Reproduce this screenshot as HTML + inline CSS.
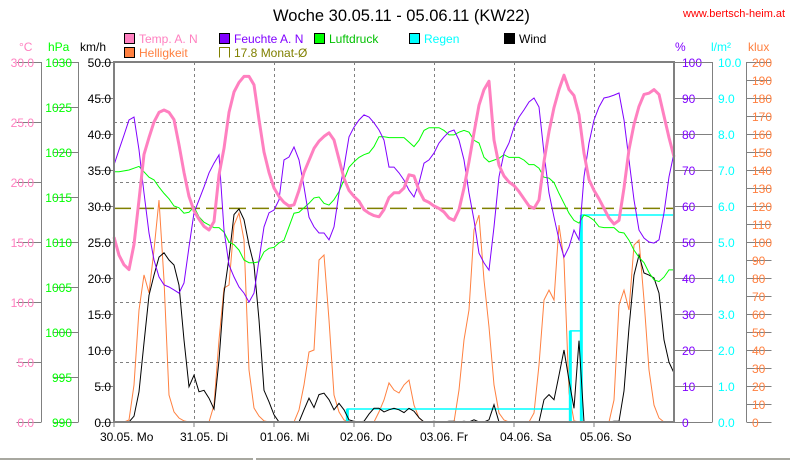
<!DOCTYPE html>
<html><head><meta charset="utf-8">
<style>
html,body{margin:0;padding:0;background:#fff;}
svg{display:block;font-family:"Liberation Sans",sans-serif;}
</style></head>
<body>
<svg id="chart" width="790" height="460" viewBox="0 0 790 460" xmlns="http://www.w3.org/2000/svg">
<text x="273" y="21" font-size="16.5" fill="#000">Woche 30.05.11 - 05.06.11 (KW22)</text>
<text x="683" y="17" font-size="11" fill="#ff0000">www.bertsch-heim.at</text>
<g font-size="12">
<g><rect x="124.5" y="33.5" width="10" height="10" fill="#ff80c0" stroke="#000"/><text x="139" y="43" fill="#ff80c0">Temp. A. N</text></g>
<g><rect x="219.5" y="33.5" width="10" height="10" fill="#8000ff" stroke="#000"/><text x="234" y="43" fill="#8000ff">Feuchte A. N</text></g>
<g><rect x="314.5" y="33.5" width="10" height="10" fill="#00ff00" stroke="#000"/><text x="329" y="43" fill="#00c000">Luftdruck</text></g>
<g><rect x="409.5" y="33.5" width="10" height="10" fill="#00ffff" stroke="#000"/><text x="424" y="43" fill="#00ffff">Regen</text></g>
<g><rect x="504.5" y="33.5" width="10" height="10" fill="#000" stroke="#000"/><text x="519" y="43" fill="#000">Wind</text></g>
<g><rect x="124.5" y="47.5" width="10" height="10" fill="#ff8040" stroke="#000"/><text x="139" y="57" fill="#ff8040">Helligkeit</text></g>
<g><path d="M219.5 57.5 V47.5 H229.5 V57.5" fill="none" stroke="#808000"/><text x="234" y="57" fill="#808000">17.8 Monat-Ø</text></g>
</g>
<g font-size="12">
<text x="19" y="51" fill="#ff80c0">°C</text>
<text x="48" y="51" fill="#00ff00">hPa</text>
<text x="80" y="51" fill="#000">km/h</text>
<text x="675" y="51" fill="#8000ff">%</text>
<text x="711" y="51" fill="#00ffff">l/m²</text>
<text x="748" y="51" fill="#ff8040">klux</text>
</g>
<g id="grid"></g>
<g id="axes"></g>
<g id="series"></g>
<rect x="114" y="62" width="560" height="360" fill="none" stroke="#808080" stroke-width="2"/>
<line x1="0" y1="459" x2="253" y2="459" stroke="#a8a8a0" stroke-width="2"/>
<line x1="256" y1="459" x2="790" y2="459" stroke="#a8a8a0" stroke-width="2"/>
</svg>
<script>
const STEP_H = 1.5;
const dayLabels = ["30.05.  Mo","31.05.  Di","01.06.  Mi","02.06.  Do","03.06.  Fr","04.06.  Sa","05.06.  So"];
const kmhTicks = [0,5,10,15,20,25,30,35,40,45,50];
const celsiusTicks = [0,5,10,15,20,25,30];
const hpaTicks = [990,995,1000,1005,1010,1015,1020,1025,1030];
const pctTicks = [0,10,20,30,40,50,60,70,80,90,100];
const rainTicks = [0,1,2,3,4,5,6,7,8,9,10];
const kluxTicks = [0,10,20,30,40,50,60,70,80,90,100,110,120,130,140,150,160,170,180,190,200];
const monthAvg = 17.8;
const temperature = [15.4,13.9,13.1,12.7,14.8,18.5,22.3,23.7,25.0,25.8,26.0,25.8,25.2,23.1,20.8,18.8,17.6,16.9,16.3,16.0,16.7,20.6,22.8,25.8,27.5,28.3,28.8,28.8,28.1,25.2,22.5,20.8,19.5,18.8,18.3,18.0,18.1,19.3,20.8,21.8,22.8,23.4,23.8,24.1,23.5,21.9,20.3,19.3,18.8,18.4,17.7,17.4,17.2,17.1,17.7,18.7,19.1,19.1,19.5,20.6,20.5,19.3,18.5,18.3,18.0,17.8,17.5,17.0,16.8,17.7,19.5,21.7,24.1,26.4,27.7,28.4,23.5,21.4,20.5,20.0,19.7,19.2,18.6,18.0,17.8,18.5,21.7,24.2,26.2,27.7,28.9,27.7,27.2,25.6,22.4,20.2,19.3,18.6,17.8,17.0,16.5,16.8,19.5,22.7,24.8,26.3,27.3,27.4,27.7,27.3,25.5,23.7,22.1];
const humidity = [71.4,75.6,79.7,83.9,84.7,75.6,63.6,52.5,45,40.3,38.1,37.5,36.7,35.8,38.6,48.6,58.1,61.7,65.3,69.2,71.9,74.2,53.3,43.6,40.3,37.5,35.8,33.3,35.8,45,54.2,58.1,58.9,61.7,72.8,73.6,76.4,72.8,65.3,56.9,54.2,52.5,52.5,50.6,54.2,63.6,70.8,79.2,81.9,83.9,85.3,84.7,83.1,81.1,78.3,70.8,70.8,69.2,67.2,64.4,62.5,66.4,71.9,72.8,74.7,77.5,79.2,80.6,81.1,78.3,72.8,63.6,56.1,46.9,44.2,42.2,54.2,68.1,74.7,77.5,81.9,84.7,86.7,88.9,90,87.5,74.7,63.6,56.9,50.6,45.8,48.6,53.3,50.6,68.1,77.5,83.9,87.5,90,90.3,90.8,91.4,83.9,72.8,61.7,53.3,51.1,50,49.7,50.6,58.1,68.1,74.7];
const pressure = [1017.8,1017.8,1017.9,1018.0,1018.2,1018.4,1017.8,1017.2,1016.9,1016.1,1015.4,1014.8,1014.0,1013.8,1013.2,1013.3,1013.9,1012.8,1012.2,1011.9,1011.6,1011.6,1011.1,1010.0,1009.7,1009.1,1008.0,1007.7,1007.7,1007.8,1008.9,1009.3,1009.4,1009.9,1010.2,1011.7,1013.2,1013.3,1013.8,1014.3,1014.9,1015.0,1014.3,1014.1,1014.7,1015.6,1016.9,1018.3,1018.9,1019.4,1019.7,1019.9,1020.6,1021.7,1021.7,1021.6,1021.6,1021.6,1021.6,1021.1,1020.6,1021.3,1022.4,1022.7,1022.7,1022.7,1022.4,1021.9,1021.9,1022.2,1022.4,1022.2,1021.3,1021.0,1019.4,1018.9,1019.1,1019.3,1019.7,1019.4,1019.4,1019.4,1019.1,1018.6,1018.6,1018.2,1017.2,1017.1,1016.6,1015.4,1014.3,1013.2,1012.4,1012.1,1013.0,1012.8,1012.4,1011.7,1011.6,1011.6,1011.6,1011.1,1011.0,1010.2,1009.1,1008.3,1007.7,1006.6,1005.8,1005.6,1006.1,1006.9,1006.9];
const wind = [0,0,0,0,0.8,4.2,11.0,17.6,20.4,22.9,23.5,22.5,21.8,19.0,11.4,4.9,6.5,4.2,4.4,3.3,1.8,8.6,17.9,22.8,28.8,29.6,28.1,24.6,21.8,14.2,4.4,2.8,1.0,0,0,0,0,0,1.7,3.3,2.0,3.8,4.0,3.1,1.7,2.6,1.7,0.3,0.1,0,0.1,1.1,1.9,1.9,1.4,1.7,1.9,1.7,1.3,1.9,1.5,0.6,0,0,0.1,0,0,0.1,0.1,0,0.1,0,0.3,0,0,0.3,2.4,0,0,0,0,0,0,0,0,0,3.1,3.8,3.1,6.5,10.0,5.8,1.9,11.3,0,0,0,0,0,0,0.1,0.1,4.3,13.1,20.4,23.2,20.7,20.4,20.0,17.9,11.4,8.3,6.8];
const light = [0,0,0,1.1,20.6,62.2,81.7,71.7,95.6,123.3,78.9,15,5.6,2.2,0.6,0,0,0,0,0,9.4,45.6,74.4,76.1,109.4,116.1,101.1,28.9,7.8,3.3,0.6,0,0,0,0,0,0,6.7,20.6,38.9,40,90,92.8,56.7,15,5.6,1.1,0,0,0,0,0,0,5.6,12.2,21.7,17.8,16.1,20.6,23.3,9.4,2.2,0,0,0,0,0,0,0,17.8,45.6,62.2,106.7,115,78.9,52.8,20.6,5,1.1,0,0,0,0,0,5,31.7,67.8,73.3,67.8,109.4,90,16.1,0.6,0,0,0,0,0,0,0,12.2,65,73.3,62.2,98.3,101.1,67.8,28.9,9.4,2.2,0,0,0];
const rainEventHours = [70.0, 136.9, 140.2];
const rainEventAmounts = [0.36, 2.17, 3.22];

const NS = "http://www.w3.org/2000/svg";
const L = 114, R = 674, T = 62, B = 422, HOURS = 168;
function xH(h){ return L + h*(R-L)/HOURS; }
function yKmh(v){ return B - v*(B-T)/50; }
function yC(v){ return B - v*(B-T)/30; }
function yHpa(v){ return B - (v-990)*(B-T)/40; }
function yPct(v){ return B - v*(B-T)/100; }
function yRain(v){ return B - v*(B-T)/10; }
function yKlux(v){ return B - v*(B-T)/200; }
function mk(tag, attrs, parent){
  const e = document.createElementNS(NS, tag);
  for (const k in attrs) e.setAttribute(k, attrs[k]);
  parent.appendChild(e);
  return e;
}
const grid = document.getElementById("grid");
const axes = document.getElementById("axes");
const series = document.getElementById("series");

for (let d = 1; d < dayLabels.length; d++){
  const x = Math.round(xH(d*24))+0.5;
  const ln = mk("line",{x1:x,y1:T,x2:x,y2:B,stroke:"#808080","stroke-dasharray":"3,3"},grid);
  
  
}
for (let i = 1; i < 6; i++){
  const y = Math.round(T + i*(B-T)/6)+0.5;
  const ln = mk("line",{x1:L,y1:y,x2:R,y2:y,stroke:"#808080","stroke-dasharray":"3,3"},grid);
  
  
}
for (let d = 0; d < dayLabels.length; d++){
  const x = xH(d*24);
  const t = mk("text",{x:x-14,y:441,"font-size":12,fill:"#000"},axes);
  t.textContent = dayLabels[d];
  
  
  const tk = mk("line",{x1:x,y1:B,x2:x,y2:B+5,stroke:"#808080"},axes);
  
  
}
function vAxis(lineX, ticks, yf, labelX, anchor, color, fmt, tickDir, name){
  if (lineX !== null){
    const al = mk("line",{x1:lineX,y1:T,x2:lineX,y2:B,stroke:"#808080"},axes);
    
    
  }
  ticks.forEach(v=>{
    const y = Math.round(yf(v))+0.5;
    const x0 = lineX===null ? (tickDir<0 ? L : R) : lineX;
    const tk = mk("line",{x1:x0,y1:y,x2:x0+tickDir*5,y2:y,stroke:"#808080"},axes);
    
    
    const t = mk("text",{x:labelX,y:y+4.5,"font-size":12,fill:color,"text-anchor":anchor},axes);
    t.textContent = fmt(v);
    
    
  });
}
vAxis(41.5, celsiusTicks, yC, 34, "end", "#ff80c0", v=>v.toFixed(1), -5, "celsius");
vAxis(78.5, hpaTicks, yHpa, 72, "end", "#00ff00", v=>String(v), -5, "hpa");
vAxis(null, kmhTicks, yKmh, 111, "end", "#000", v=>v.toFixed(1), -3, "kmh");
vAxis(null, pctTicks, yPct, 682, "start", "#8000ff", v=>String(v), 6, "percent");
vAxis(712.5, rainTicks, yRain, 718, "start", "#00ffff", v=>v.toFixed(1), -4, "rain");
vAxis(746.5, kluxTicks, yKlux, 752, "start", "#ff8040", v=>String(v), 5, "klux");

function pathFrom(arr, yf){
  let d = "";
  arr.forEach((v,i)=>{ d += (i?"L":"M") + xH(i*STEP_H).toFixed(1) + " " + yf(v).toFixed(1); });
  return d;
}
const avgY = yC(monthAvg);
const avg = mk("line",{x1:L,y1:avgY,x2:R,y2:avgY,stroke:"#808000","stroke-width":1.5,"stroke-dasharray":"17,6"},series);



const pL = mk("path",{d:pathFrom(light,yKlux),fill:"none",stroke:"#ff8040","stroke-width":1},series);



let cum = 0, rd = "M"+L+" "+yRain(0);
const cumAt = [];
rainEventHours.forEach((h,i)=>{
  const x = xH(h);
  rd += "L"+x.toFixed(1)+" "+yRain(cum).toFixed(1);
  cum += rainEventAmounts[i];
  cumAt.push(cum);
  rd += "L"+x.toFixed(1)+" "+yRain(cum).toFixed(1);
});
rd += "L"+R+" "+yRain(cum).toFixed(1);
const pR = mk("path",{d:rd,fill:"none",stroke:"#00ffff","stroke-width":1.5},series);


rainEventHours.forEach((h,i)=>{
  const x = xH(h);
  const b = mk("line",{x1:x,y1:B,x2:x,y2:yRain(cumAt[i]),stroke:"#00ffff","stroke-width":3},series);
  
  
});

const pW = mk("path",{d:pathFrom(wind,yKmh),fill:"none",stroke:"#000","stroke-width":1},series);


const pP = mk("path",{d:pathFrom(pressure,yHpa),fill:"none",stroke:"#00ff00","stroke-width":1},series);


const pH = mk("path",{d:pathFrom(humidity,yPct),fill:"none",stroke:"#8000ff","stroke-width":1},series);


const pT = mk("path",{d:pathFrom(temperature,yC),fill:"none",stroke:"#ff80c0","stroke-width":3,"stroke-linejoin":"round"},series);


</script>
</body></html>
